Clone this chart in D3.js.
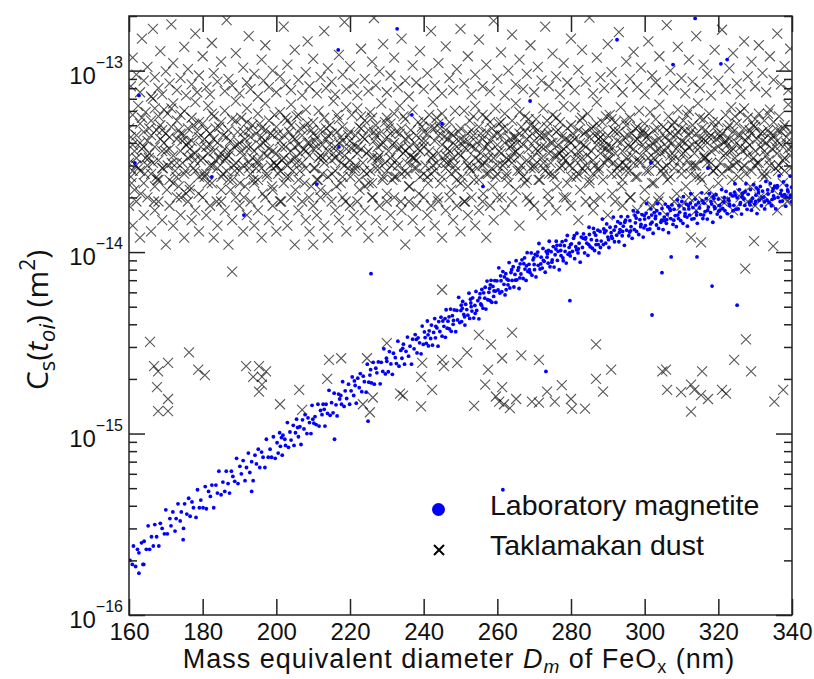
<!DOCTYPE html>
<html lang="en">
	<head>
		<meta charset="utf-8">
		<title>Cs vs mass equivalent diameter</title>
		<script type="text/javascript" src="https://cdn.jsdelivr.net/npm/d3@7"></script>
		<style>
			body { margin: 0; background: #fff; }
			.axis text { font-family: "Liberation Sans", Arial, sans-serif; fill: #111; }
			.axis line { stroke: #222; stroke-width: 1.5; }
			.axis path { display: none; }
		</style>
	</head>
	<body>
		<script type="text/javascript">

			var w = 814;
			var h = 679;
			var plot = { left: 129, right: 792, top: 16, bottom: 615 };

			// axis ticks
			var xTicks = [160, 180, 200, 220, 240, 260, 280, 300, 320, 340];
			var yExponents = [-16, -15, -14, -13];
			var xDomain = [160, 340];
			var yDomain = [1e-16, 2e-13];

			var legendLabels = ["Laboratory magnetite", "Taklamakan dust"];

			// Laboratory magnetite: [D_m (nm), C_s in units of 1e-15 m^2]
			var magnetite = [
				[160.3,0.20],[160.9,0.19],[161.2,0.24],[161.8,0.185],[162.3,0.23],[162.7,0.22],[163.4,0.25],[163.8,0.19],[164.1,0.255],[164.7,0.23],
				[165.2,0.31],[165.6,0.23],[166.1,0.27],[166.6,0.24],[167.0,0.315],[167.5,0.27],[168.1,0.24],[168.5,0.32],[169.0,0.30],[169.6,0.28],
				[170.0,0.38],[170.4,0.28],[171.1,0.34],[171.4,0.31],[171.9,0.37],[172.5,0.29],[172.8,0.34],[173.3,0.41],[173.9,0.33],[174.2,0.37],
				[174.8,0.30],[175.1,0.41],[175.7,0.36],[176.2,0.44],[176.6,0.35],[177.1,0.42],[177.5,0.39],[178.2,0.345],[178.6,0.49],[179.1,0.39],
				[179.5,0.43],[180.1,0.39],[180.7,0.51],[181.0,0.385],[181.6,0.48],[182.1,0.45],[182.5,0.52],[183.0,0.39],[183.6,0.52],[184.0,0.47],
				[184.4,0.62],[185.0,0.46],[185.5,0.54],[186.0,0.48],[186.4,0.62],[186.9,0.53],[187.3,0.47],[187.8,0.62],[188.2,0.58],[188.7,0.545],
				[189.2,0.73],[189.6,0.53],[190.1,0.66],[190.5,0.60],[191.0,0.71],[191.5,0.55],[191.9,0.65],[192.4,0.78],[192.8,0.61],[193.3,0.70],
				[193.7,0.55],[194.2,0.76],[194.6,0.68],[195.1,0.82],[195.5,0.65],[196.0,0.79],[196.4,0.74],[196.9,0.65],[197.3,0.93],[197.8,0.74],
				[198.3,0.82],[198.7,0.74],[199.2,0.96],[199.7,0.73],
				[200.2,0.89],[200.5,0.78],[200.9,1.01],[201.1,0.85],[201.6,0.76],[201.8,0.98],[202.3,0.93],[202.5,0.86],[203.0,1.15],[203.3,0.84],
				[203.7,1.02],[204.0,0.92],[204.6,1.11],[204.8,0.86],[205.2,1.01],[205.5,1.2],[206.0,0.96],[206.4,1.09],[206.7,0.87],[207.1,1.19],
				[207.5,1.06],[207.8,1.27],[208.3,1.0],[208.6,1.22],[209.0,1.15],[209.4,1.0],[209.7,1.43],[210.2,1.14],[210.5,1.24],[210.8,1.12],
				[211.3,1.45],[211.6,1.1],[212.0,1.34],[212.4,1.27],[212.7,1.45],[213.2,1.1],[213.5,1.45],[213.9,1.29],[214.3,1.73],[214.6,1.26],
				[215.0,1.48],[215.4,1.3],[215.7,1.67],[216.2,1.44],[216.5,1.25],[216.9,1.65],[217.2,1.55],[217.7,1.45],[218.0,1.93],[218.4,1.41],
				[218.7,1.72],[219.1,1.56],[219.6,1.87],[219.9,1.45],[220.3,1.72],[220.6,2.05],[221.0,1.62],[221.4,1.84],[221.7,1.47],[222.1,2.02],
				[222.5,1.79],[222.8,2.14],[223.2,1.7],[223.6,2.07],[223.9,1.93],[224.4,1.69],[224.7,2.41],[225.1,1.92],[225.4,2.1],[225.8,1.9],
				[226.3,2.47],[226.6,1.87],[227.0,2.29],[227.3,2.16],[227.7,2.48],[228.2,1.88],[228.5,2.47],[228.9,2.2],[229.2,2.93],[229.6,2.13],
				[230.0,2.5],[230.4,2.19],[230.7,2.83],[231.1,2.42],[231.5,2.12],[231.8,2.77],[232.3,2.62],[232.6,2.43],[233.0,3.23],[233.3,2.35],
				[233.8,2.87],[234.1,2.6],[234.5,3.11],[234.8,2.41],[235.2,2.84],[235.6,3.4],[235.9,2.67],[236.3,3.03],[236.7,2.41],[237.0,3.31],
				[237.4,2.93],[237.7,3.51],[238.2,2.78],[238.5,3.37],[238.9,3.16],[239.3,2.75],[239.6,3.91],[239.9,3.1],
				[201.4,0.95],[205.8,1.08],[209.9,1.2],[213.0,1.36],[217.5,1.62],[221.2,1.95],[225.6,2.25],[229.9,2.6],[234.3,2.95],[238.0,3.3],
				[240.2,3.63],[240.4,3.38],[240.7,3.14],[241.0,4.17],[241.3,3.04],[241.5,3.68],[241.9,3.34],[242.1,3.96],[242.4,3.07],[242.7,3.61],
				[243.0,4.3],[243.2,3.37],[243.6,3.82],[243.9,3.03],[244.1,4.14],[244.4,3.65],[244.7,4.38],[245.0,3.44],[245.2,4.17],[245.5,3.9],
				[245.9,3.39],[246.1,4.81],[246.4,3.81],[246.6,4.16],[247.0,3.77],[247.3,4.85],[247.5,3.66],[247.8,4.46],[248.1,4.2],[248.3,4.8],
				[248.7,3.64],[249.0,4.77],[249.2,4.23],[249.5,5.63],[249.8,4.09],[250.1,4.76],[250.3,4.14],[250.6,5.34],[250.9,4.53],[251.2,3.96],
				[251.4,5.16],[251.7,4.82],[252.0,4.49],[252.3,5.94],[252.5,4.31],[252.8,5.24],[253.1,4.73],[253.3,5.6],[253.6,4.33],[253.9,5.08],
				[254.2,6.07],[254.4,4.77],[254.7,5.4],[255.0,4.29],[255.3,5.9],[255.5,5.18],[255.8,6.22],[256.1,4.91],[256.3,5.96],[256.6,5.57],
				[256.9,4.85],[257.2,6.92],[257.4,5.46],[257.7,6.0],[258.0,5.41],[258.3,6.99],[258.5,5.29],[258.8,6.47],[259.1,6.11],[259.3,6.97],
				[259.6,5.28],[259.9,6.94],[260.2,6.18],[260.4,8.19],[260.7,5.95],[261.0,6.95],[261.2,6.05],[261.5,7.81],[261.8,6.64],[262.1,5.81],
				[262.3,7.6],[262.6,7.1],[262.9,6.6],[263.2,8.75],[263.4,6.34],[263.7,7.72],[264.0,6.98],[264.3,8.31],[264.5,6.42],[264.8,7.53],
				[265.1,8.97],[265.3,7.03],[265.6,7.94],[265.9,6.3],[266.2,8.62],[266.4,7.57],[266.7,9.07],[267.0,7.15],[267.2,8.63],[267.5,8.06],
				[267.8,6.98],[268.1,9.92],[268.3,7.82],[268.6,8.56],[268.9,7.7],[269.2,9.89],[269.4,7.46],[269.7,9.07],[270.0,8.54],[270.3,9.72],
				[270.5,7.3],[270.8,9.55],[271.1,8.45],[271.3,11.15],[271.6,8.07],[271.9,9.38],[272.2,8.16],[272.4,10.48],[272.7,8.89],[273.0,7.74],
				[273.3,10.09],[273.5,9.38],[273.8,8.69],[274.1,11.47],[274.3,8.3],[274.6,10.05],[274.9,9.05],[275.2,10.73],[275.4,8.27],[275.7,9.67],
				[276.0,11.47],[276.3,9.0],[276.5,10.1],[276.8,7.99],[277.1,10.91],[277.3,9.56],[277.6,11.41],[277.9,8.96],[278.2,10.85],[278.4,10.08],
				[278.7,8.7],[279.0,12.36],[279.2,9.72],[279.5,10.61],[279.8,9.52],
				[241.2,3.5],[243.3,3.9],[245.8,4.3],[248.0,4.0],[250.5,4.9],[252.9,5.0],[255.2,5.6],[257.9,6.3],[259.0,5.7],[261.9,7.3],
				[263.0,7.0],[265.8,8.2],[267.9,8.4],[269.9,9.3],[271.8,8.6],[273.9,10.2],[275.9,10.4],[277.8,9.3],[279.9,11.0],[246.9,4.4],
				[280.1,11.1],[280.4,10.1],[280.7,11.9],[281.0,9.2],[281.3,10.7],[281.6,12.7],[281.9,9.9],[282.2,11.2],[282.5,8.8],[282.8,12.1],
				[283.1,10.6],[283.4,12.6],[283.7,9.9],[284.0,12.0],[284.3,11.2],[284.6,9.6],[284.9,13.7],[285.2,10.7],[285.5,11.7],[285.8,10.5],
				[286.1,13.5],[286.4,10.2],[286.7,12.4],[287.0,11.6],[287.3,13.2],[287.6,9.9],[287.9,13.0],[288.2,11.5],[288.5,15.2],[288.8,11.0],
				[289.1,12.8],[289.4,11.2],[289.7,14.3],[290.0,12.1],[290.3,10.6],[290.6,13.7],[290.9,12.8],[291.2,11.9],[291.5,15.6],[291.8,11.4],
				[292.1,13.8],[292.4,12.4],[292.7,14.7],[293.0,11.4],[293.3,13.3],[293.6,15.7],[293.9,12.3],[294.2,13.9],[294.5,10.9],[294.8,15.0],
				[295.1,13.2],[295.4,15.7],[295.7,12.3],[296.0,14.9],[296.3,13.8],[296.6,11.9],[296.9,16.9],[297.2,13.3],[297.5,14.5],[297.8,13.0],
				[298.1,16.6],[298.4,12.5],[298.7,15.1],[299.0,14.2],[299.3,16.1],[299.6,12.1],[299.9,15.9],[300.2,14.0],[300.5,18.5],[300.8,13.3],
				[301.1,15.5],[301.4,13.4],[301.7,17.3],[302.0,14.6],[302.3,12.7],[302.6,16.5],[302.9,15.3],[303.2,14.1],[303.5,18.5],[303.8,13.5],
				[304.1,16.3],[304.4,14.6],[304.7,17.4],[305.0,13.3],[305.3,15.6],[305.6,18.4],[305.9,14.4],[306.2,16.2],[306.5,12.8],[306.8,17.4],
				[307.1,15.3],[307.4,18.2],[307.7,14.2],[308.0,17.2],[308.3,15.9],[308.6,13.8],[308.9,19.4],[309.2,15.3],[309.5,16.6],[309.8,14.9],
				[310.1,19.0],[310.4,14.4],[310.7,17.3],[311.0,16.3],[311.3,18.4],[311.6,13.9],[311.9,18.0],[312.2,16.0],[312.5,21.0],[312.8,15.2],
				[313.1,17.6],[313.4,15.3],[313.7,19.6],[314.0,16.6],[314.3,14.4],[314.6,18.7],[314.9,17.5],[315.2,16.1],[315.5,21.2],[315.8,15.3],
				[316.1,18.6],[316.4,16.7],[316.7,19.7],[317.0,15.2],[317.3,17.7],[317.6,21.0],[317.9,16.5],[318.2,18.4],[318.5,14.6],[318.8,19.8],
				[319.1,17.4],[319.4,20.7],[319.7,16.2],[320.0,19.6],[320.3,18.1],[320.6,15.6],[320.9,22.1],[321.2,17.4],[321.5,18.9],[321.8,16.9],
				[322.1,21.6],[322.4,16.3],[322.7,19.6],[323.0,18.4],[323.3,20.9],[323.6,15.7],[323.9,20.4],[324.2,18.1],[324.5,23.8],[324.8,17.2],
				[325.1,19.9],[325.4,17.3],[325.7,22.1],[326.0,18.7],[326.3,16.2],[326.6,21.1],[326.9,19.6],[327.2,18.1],[327.5,23.8],[327.8,17.2],
				[328.1,20.8],[328.4,18.7],[328.7,22.1],[329.0,17.0],[329.3,19.8],[329.6,23.5],[329.9,18.4],[330.2,20.6],[330.5,16.3],[330.8,22.1],
				[331.1,19.3],[331.4,23.0],[331.7,18.0],[332.0,21.7],[332.3,20.1],[332.6,17.3],[332.9,24.5],[333.2,19.3],[333.5,20.9],[333.8,18.7],
				[334.1,23.9],[334.4,18.0],[334.7,21.7],[335.0,20.4],[335.3,23.1],[335.6,17.3],[335.9,22.6],[336.2,20.0],[336.5,26.3],[336.8,19.0],
				[337.1,21.9],[337.4,19.1],[337.7,24.4],[338.0,20.7],[338.3,17.9],[338.6,23.3],[338.9,21.6],[339.2,19.9],[339.5,26.2],[339.8,18.9],
				[281.5,10.3],[283.9,11.8],[286.8,11.0],[289.5,13.1],[291.0,12.2],[293.4,14.4],[295.9,12.9],[297.7,15.4],[299.8,13.6],[301.9,16.0],
				[303.0,15.8],[305.4,14.9],[307.0,17.0],[309.0,16.0],[311.5,15.6],[313.9,18.2],[316.0,16.0],[318.0,19.0],[320.4,17.0],[322.9,19.2],
				[324.0,16.9],[326.4,20.2],[328.9,19.1],[330.9,21.3],[332.5,18.9],[334.9,22.4],[336.9,21.0],[338.5,20.1],[339.9,22.8],[285.0,12.5],
				[288.0,10.6],[294.0,13.0],[300.0,15.2],[306.0,15.1],[312.0,17.3],[318.9,17.8],[324.6,20.5],[330.1,19.0],[335.2,19.8],[310.5,20.2],
				[250.2,5.1],[251.1,4.4],[252.7,5.5],[254.0,4.6],[255.7,5.1],[256.7,6.4],[258.1,6.6],[259.5,6.1],[260.9,7.4],[262.4,6.2],
				[263.9,8.0],[264.9,7.0],[266.1,7.2],[267.4,9.3],[268.7,8.0],[270.1,8.0],[271.0,10.0],[272.5,9.0],[273.6,9.8],[274.8,8.8],
				[276.2,10.9],[277.2,10.2],[278.6,11.6],[279.6,9.9],[280.9,12.3],[282.0,10.4],[283.3,11.9],[284.8,11.0],[286.3,12.8],[287.4,11.0],
				[288.9,13.4],[290.2,11.7],[291.7,13.2],[293.1,12.8],[294.6,14.6],[296.2,13.1],[297.4,15.9],[298.9,13.8],[300.4,16.4],[301.6,14.3],
				[303.3,16.9],[304.6,15.0],[306.3,17.8],[307.9,15.0],[309.3,18.0],[310.9,15.8],[312.4,18.6],[314.1,16.0],[315.6,19.2],[317.1,17.0],
				[318.6,20.3],[320.1,16.8],[321.6,20.0],[323.1,18.0],[324.4,21.4],[325.9,18.3],[327.3,21.5],[328.6,18.2],[330.3,22.6],[331.9,19.9],
				[333.4,22.0],[334.6,19.5],[336.0,23.2],[337.3,20.4],[338.8,22.0],[339.6,20.6]
			];

			// stray magnetite points away from the main trend
			var magnetiteStray = [
				[164.0,0.19],[162.7,0.17],[174.7,0.26],[193.3,0.48],[215.8,0.93],[224.9,1.17],[261.5,0.49],[225.7,7.6],[273.2,2.2],[279.7,5.4],
				[302.0,4.5],[318.3,6.5],[325.1,5.1],[304.7,7.7],[314.2,9.4],[307.2,9.4],
				[162.7,73],[161.6,31],[182.5,26],[191.2,16],[211.0,23.7],[217.0,38],[216.8,130],[232.8,170],[236.8,57],[245.0,51],
				[292.5,148],[313.7,194],[307.7,108],[320.7,109],[322.4,115],[301.7,31],[317.2,29],[268.9,68],[256.1,23]
			];

			// Taklamakan dust: [D_m (nm), C_s in units of 1e-15 m^2], dense band
			var dustBand = [
				[160,31],[160,48],[160.5,26],[161,39],[161,57],[161.5,22],[162,44],[162,33],[162.5,64],[163,28],[163,51],[163.5,37],[164,24],[164,46],[164.5,59],[165,30],[165,41],[165.5,35],[166,53],[166,27],[166.5,70],[167,38],[167,23],[167.5,47],[168,32],[168,56],[168.5,42],[169,29],[169,36],[169.5,61],[160.5,43],[161.5,36],[162.5,29],[163.5,55],[164.5,33],[165.5,48],[166.5,31],[167.5,26],[168.5,50],[169.5,40],[163,40],[166,44],[168,25],[161,28],[164,38],[167,62],[169,47],
				[170,45],[170.5,30],[170.5,58],[171,25],[171,37],[171.5,49],[172,34],[172,66],[172.5,28],[173,42],[173,53],[173.5,23],[174,36],[174,45],[174.5,31],[175,60],[175,27],[175.5,39],[176,48],[176,33],[176.5,22],[177,55],[177,41],[177.5,29],[178,35],[178,67],[178.5,46],[179,26],[179,52],[179.5,38],[170,36],[171,43],[172,24],[173,31],[174,57],[175,44],[176,40],[177,34],[178,28],[179,43],[171.5,62],[173.5,47],[175.5,21],[177.5,50],[179.5,32],[174.5,41],[176.5,37],
				[180,33],[180,51],[180.5,42],[181,27],[181,38],[181.5,64],[182,45],[182,30],[182.5,24],[183,56],[183,36],[183.5,48],[184,29],[184,40],[184.5,33],[185,52],[185,22],[185.5,44],[186,37],[186,60],[186.5,28],[187,47],[187,34],[187.5,41],[188,25],[188,54],[188.5,38],[189,31],[189,68],[189.5,46],[180.5,26],[181.5,35],[182.5,58],[183.5,32],[184.5,49],[185.5,27],[186.5,43],[187.5,36],[188.5,30],[189.5,39],[181,47],[183,42],[185,35],[187,25],[189,53],[182,39],[186,32],
				[190,40],[190,28],[190.5,55],[191,34],[191,46],[191.5,23],[192,38],[192,62],[192.5,31],[193,43],[193,27],[193.5,50],[194,36],[194,24],[194.5,45],[195,58],[195,32],[195.5,39],[196,29],[196,48],[196.5,35],[197,66],[197,41],[197.5,26],[198,53],[198,37],[198.5,30],[199,44],[199,22],[199.5,57],[190.5,36],[191.5,42],[192.5,47],[193.5,33],[194.5,29],[195.5,51],[196.5,40],[197.5,34],[198.5,45],[199.5,31],[191,30],[193,38],[195,25],[197,47],[199,36],[192,52],[196,43],
				[200,35],[200,49],[200.5,27],[201,41],[201,59],[201.5,32],[202,44],[202,24],[202.5,38],[203,53],[203,30],[203.5,46],[204,36],[204,65],[204.5,28],[205,42],[205,33],[205.5,56],[206,25],[206,39],[206.5,48],[207,31],[207,44],[207.5,37],[208,61],[208,29],[208.5,51],[209,34],[209,40],[209.5,23],[200.5,45],[201.5,38],[202.5,55],[203.5,26],[204.5,43],[205.5,31],[206.5,35],[207.5,49],[208.5,40],[209.5,47],[200,30],[202,33],[204,50],[206,57],[208,36],[201,28],[205,38],
				[210,37],[210,52],[210.5,29],[211,43],[211,25],[211.5,60],[212,34],[212,47],[212.5,39],[213,31],[213,55],[213.5,42],[214,26],[214,36],[214.5,50],[215,45],[215,32],[215.5,68],[216,38],[216,28],[216.5,46],[217,54],[217,35],[217.5,24],[218,41],[218,49],[218.5,30],[219,63],[219,37],[219.5,44],[210.5,41],[211.5,33],[212.5,27],[213.5,48],[214.5,39],[215.5,35],[216.5,57],[217.5,43],[218.5,34],[219.5,29],[210,45],[212,22],[214,44],[216,33],[218,26],[211,38],[217,40],
				[220,32],[220,46],[220.5,57],[221,28],[221,39],[221.5,44],[222,35],[222,62],[222.5,25],[223,48],[223,37],[223.5,31],[224,53],[224,42],[224.5,27],[225,36],[225,47],[225.5,59],[226,33],[226,24],[226.5,41],[227,50],[227,29],[227.5,38],[228,45],[228,34],[228.5,66],[229,26],[229,40],[229.5,52],[220.5,37],[221.5,30],[222.5,49],[223.5,43],[224.5,35],[225.5,28],[226.5,46],[227.5,33],[228.5,39],[229.5,31],[220,41],[222,38],[224,23],[226,55],[228,29],[223,56],[227,44],
				[230,43],[230,28],[230.5,36],[231,51],[231,33],[231.5,25],[232,40],[232,58],[232.5,46],[233,30],[233,37],[233.5,64],[234,27],[234,48],[234.5,35],[235,42],[235,54],[235.5,31],[236,38],[236,23],[236.5,47],[237,33],[237,61],[237.5,40],[238,29],[238,44],[238.5,52],[239,36],[239,26],[239.5,49],[230.5,48],[231.5,39],[232.5,32],[233.5,45],[234.5,56],[235.5,27],[236.5,34],[237.5,29],[238.5,37],[239.5,41],[230,55],[232,26],[234,38],[236,43],[238,32],[231,45],[235,36],
				[240,38],[240,53],[240.5,30],[241,45],[241,26],[241.5,36],[242,49],[242,33],[242.5,67],[243,41],[243,28],[243.5,55],[244,35],[244,44],[244.5,24],[245,39],[245,58],[245.5,32],[246,47],[246,29],[246.5,42],[247,36],[247,52],[247.5,27],[248,44],[248,33],[248.5,60],[249,38],[249,25],[249.5,46],[240.5,41],[241.5,57],[242.5,34],[243.5,31],[244.5,48],[245.5,43],[246.5,37],[247.5,45],[248.5,30],[249.5,35],[240,46],[242,27],[244,51],[246,34],[248,40],[243,48],[247,31],
				[250,34],[250,48],[250.5,26],[251,41],[251,60],[251.5,37],[252,30],[252,45],[252.5,53],[253,28],[253,38],[253.5,44],[254,33],[254,64],[254.5,40],[255,25],[255,49],[255.5,35],[256,42],[256,57],[256.5,31],[257,46],[257,27],[257.5,39],[258,52],[258,36],[258.5,29],[259,44],[259,33],[259.5,62],[250.5,39],[251.5,32],[252.5,40],[253.5,56],[254.5,29],[255.5,45],[256.5,38],[257.5,33],[258.5,48],[259.5,26],[250,42],[252,23],[254,37],[256,30],[258,41],[253,47],[257,55],
				[260,39],[260,27],[260.5,51],[261,35],[261,44],[261.5,30],[262,58],[262,40],[262.5,33],[263,47],[263,24],[263.5,38],[264,53],[264,31],[264.5,43],[265,36],[265,66],[265.5,28],[266,45],[266,34],[266.5,49],[267,39],[267,26],[267.5,56],[268,32],[268,42],[268.5,37],[269,50],[269,29],[269.5,45],[260.5,36],[261.5,48],[262.5,27],[263.5,42],[264.5,35],[265.5,40],[266.5,30],[267.5,46],[268.5,54],[269.5,33],[260,45],[262,31],[264,39],[266,59],[268,25],[261,52],[265,43],
				[270,41],[270,30],[270.5,54],[271,36],[271,47],[271.5,25],[272,43],[272,33],[272.5,62],[273,38],[273,28],[273.5,49],[274,35],[274,45],[274.5,31],[275,57],[275,40],[275.5,26],[276,46],[276,34],[276.5,39],[277,52],[277,29],[277.5,43],[278,37],[278,64],[278.5,32],[279,48],[279,24],[279.5,41],[270.5,37],[271.5,44],[272.5,29],[273.5,53],[274.5,40],[275.5,34],[276.5,47],[277.5,36],[278.5,42],[279.5,30],[270,49],[272,38],[274,27],[276,55],[278,33],[273,44],[277,35],
				[280,36],[280,50],[280.5,29],[281,42],[281,63],[281.5,34],[282,47],[282,27],[282.5,40],[283,55],[283,33],[283.5,45],[284,30],[284,38],[284.5,58],[285,43],[285,25],[285.5,36],[286,49],[286,32],[286.5,44],[287,39],[287,67],[287.5,28],[288,46],[288,35],[288.5,52],[289,31],[289,41],[289.5,37],[280.5,45],[281.5,26],[282.5,53],[283.5,39],[284.5,34],[285.5,48],[286.5,30],[287.5,42],[288.5,38],[289.5,56],[280,40],[282,36],[284,46],[286,27],[288,43],[283,29],[287,51],
				[290,44],[290,32],[290.5,57],[291,38],[291,27],[291.5,47],[292,35],[292,52],[292.5,41],[293,30],[293,46],[293.5,63],[294,36],[294,25],[294.5,43],[295,50],[295,33],[295.5,39],[296,28],[296,55],[296.5,45],[297,37],[297,31],[297.5,48],[298,42],[298,26],[298.5,60],[299,34],[299,45],[299.5,39],[290.5,36],[291.5,31],[292.5,29],[293.5,40],[294.5,53],[295.5,44],[296.5,34],[297.5,41],[298.5,32],[299.5,47],[290,39],[292,46],[294,31],[296,38],[298,49],[291,54],[295,28],
				[300,37],[300,51],[300.5,28],[301,44],[301,33],[301.5,59],[302,40],[302,24],[302.5,47],[303,36],[303,54],[303.5,31],[304,42],[304,65],[304.5,35],[305,49],[305,27],[305.5,43],[306,38],[306,30],[306.5,56],[307,45],[307,34],[307.5,40],[308,29],[308,52],[308.5,37],[309,46],[309,61],[309.5,32],[300.5,43],[301.5,38],[302.5,33],[303.5,48],[304.5,28],[305.5,36],[306.5,41],[307.5,50],[308.5,44],[309.5,39],[300,45],[302,31],[304,37],[306,47],[308,34],[303,41],[307,26],
				[310,41],[310,29],[310.5,53],[311,36],[311,47],[311.5,32],[312,44],[312,60],[312.5,27],[313,39],[313,50],[313.5,35],[314,45],[314,30],[314.5,66],[315,38],[315,42],[315.5,25],[316,54],[316,34],[316.5,47],[317,40],[317,31],[317.5,58],[318,36],[318,44],[318.5,28],[319,49],[319,37],[319.5,42],[310.5,35],[311.5,57],[312.5,46],[313.5,30],[314.5,39],[315.5,48],[316.5,33],[317.5,43],[318.5,52],[319.5,29],[310,48],[312,38],[314,26],[316,42],[318,31],[311,40],[315,55],
				[320,38],[320,52],[320.5,31],[321,45],[321,27],[321.5,40],[322,57],[322,35],[322.5,48],[323,42],[323,29],[323.5,63],[324,37],[324,46],[324.5,33],[325,51],[325,40],[325.5,26],[326,44],[326,59],[326.5,36],[327,30],[327,48],[327.5,41],[328,34],[328,55],[328.5,39],[329,45],[329,28],[329.5,50],[320.5,43],[321.5,34],[322.5,39],[323.5,36],[324.5,56],[325.5,44],[326.5,29],[327.5,37],[328.5,47],[329.5,33],[320,45],[322,41],[324,30],[326,38],[328,43],[323,50],[327,62],
				[330,36],[330,49],[330.5,42],[331,31],[331,58],[331.5,38],[332,46],[332,27],[332.5,53],[333,40],[333,34],[333.5,47],[334,30],[334,61],[334.5,37],[335,44],[335,52],[335.5,29],[336,41],[336,35],[336.5,56],[337,39],[337,46],[337.5,32],[338,50],[338,28],[338.5,43],[339,37],[339,65],[339.5,34],[330.5,31],[331.5,45],[332.5,36],[333.5,58],[334.5,42],[335.5,38],[336.5,30],[337.5,48],[338.5,40],[339.5,46],[340,38],[330,54],[332,41],[334,45],[336,47],[338,33],[333,27]
			];

			// Taklamakan dust, extra points in the lower, darker half of the band
			var dustBandLow = [
				[160.7,24],[161.9,30],[163.2,21],[164.3,27],[165.4,33],[166.8,19],[167.7,25],[169.2,29],[170.3,22],[171.6,31],[172.9,26],[174.1,20],[175.3,28],[176.4,23],[177.8,32],[178.9,21],
				[180.2,27],[181.4,24],[182.7,30],[183.8,19],[185.1,26],[186.3,33],[187.6,22],[188.7,28],[190.1,24],[191.2,20],[192.6,29],[193.8,25],[195.0,31],[196.3,21],[197.4,27],[198.8,23],
				[200.1,30],[201.3,19],[202.7,26],[203.9,32],[205.2,22],[206.4,28],[207.7,24],[208.9,20],[210.2,29],[211.3,25],[212.6,33],[213.9,21],[215.1,27],[216.3,23],[217.6,31],[218.8,19],
				[220.1,26],[221.3,29],[222.6,22],[223.8,28],[225.1,24],[226.2,20],[227.5,32],[228.8,25],[230.0,21],[231.3,30],[232.5,26],[233.8,19],[235.0,28],[236.2,23],[237.5,33],[238.7,21],
				[240.0,27],[241.2,24],[242.5,30],[243.7,20],[245.0,26],[246.2,31],[247.5,22],[248.7,28],[250.0,24],[251.2,19],[252.5,29],[253.7,25],[255.0,32],[256.2,21],[257.5,27],[258.7,23],
				[260.0,30],[261.2,20],[262.5,26],[263.7,33],[265.0,22],[266.2,28],[267.5,24],[268.7,19],[270.0,29],[271.2,25],[272.5,31],[273.7,21],[275.0,27],[276.2,23],[277.5,30],[278.7,20],
				[280.0,26],[281.2,32],[282.5,22],[283.7,28],[285.0,24],[286.2,19],[287.5,29],[288.7,25],[290.0,33],[291.2,21],[292.5,27],[293.7,23],[295.0,30],[296.2,20],[297.5,26],[298.7,31],
				[300.0,22],[301.2,28],[302.5,24],[303.7,19],[305.0,29],[306.2,25],[307.5,32],[308.7,21],[310.0,27],[311.2,23],[312.5,30],[313.7,20],[315.0,26],[316.2,33],[317.5,22],[318.7,28],
				[320.0,24],[321.2,19],[322.5,29],[323.7,25],[325.0,31],[326.2,21],[327.5,27],[328.7,23],[330.0,30],[331.2,20],[332.5,26],[333.7,32],[335.0,22],[336.2,28],[337.5,24],[338.7,19],[339.7,29]
			];

			// Taklamakan dust, sparse points above the band
			var dustUpper = [
				[160.5,82],[161,118],[162,95],[163,76],[163.5,150],[164,88],[165,105],[166,72],[166.5,170],[167,92],[168,80],[168.5,128],[169,74],[170,99],[171,85],[171.5,180],[172,110],[173,78],[174,91],[175,135],
				[175.5,73],[176,102],[177,84],[178,160],[178.5,76],[179,94],[180,120],[181,81],[182,74],[182.5,142],[183,97],[184,87],[185,112],[186,77],[186.5,190],[187,90],[188,83],[189,125],[190,75],[191,104],
				[192,86],[192.5,155],[193,79],[194,96],[195,72],[196,115],[196.5,88],[197,138],[198,81],[199,100],[200,76],[201,93],[202,175],[202.5,84],[203,108],[204,78],[205,130],[206,89],[207,73],[208,98],
				[208.5,145],[209,82],[210,116],[211,75],[212,92],[213,165],[213.5,80],[214,103],[215,87],[216,74],[217,122],[218,95],[218.5,185],[219,79],[220,106],[221,85],[222,73],[223,132],[224,90],[225,77],
				[226,112],[226.5,195],[227,83],[228,99],[229,140],[230,76],[231,94],[232,118],[233,81],[234,150],[235,88],[236,72],[237,107],[238,86],[239,128],[240,79],[241,97],[242,165],[243,83],[244,110],
				[245,75],[246,136],[247,91],[248,78],[249,102],[250,170],[251,85],[252,120],[253,74],[254,95],[255,148],[256,82],[257,108],[258,77],[259,188],[260,90],[261,126],[262,73],[263,100],[264,158],
				[265,84],[266,115],[267,79],[268,96],[269,138],[270,76],[271,105],[272,88],[273,175],[274,82],[275,124],[276,93],[277,74],[278,110],[279,86],[280,150],[281,78],[282,101],[283,130],[284,87],
				[285,196],[286,75],[287,118],[288,92],[289,80],[290,140],[291,98],[292,84],[293,163],[294,76],[295,112],[296,90],[297,127],[298,81],[299,104],[300,74],[301,145],[302,94],[303,86],[304,120],
				[305,78],[306,178],[307,100],[308,83],[309,135],[310,91],[311,75],[312,115],[313,87],[314,155],[315,80],[316,108],[317,96],[318,73],[319,130],[320,88],[321,168],[322,79],[323,103],[324,125],
				[325,85],[326,74],[327,145],[328,93],[329,112],[330,82],[331,138],[332,97],[333,76],[334,120],[335,89],[336,160],[337,84],[338,106],[339,78],[339.5,132]
			];

			// Taklamakan dust, sparse points just below the band
			var dustLower = [
				[160,18],[161,14],[162,19],[163,12],[164,16],[165,20],[166,13],[167,17],[168,19],[169,15],[170,11],[171,18],[172,14],[173,20],[174,16],[175,12],[176,19],[177,15],[178,17],[179,13],
				[180,20],[181,16],[182,18],[183,12],[184,14],[185,19],[186,17],[187,11],[188,15],[189,20],[190,18],[191,13],[192,16],[193,19],[194,14],[195,17],[196,12],[197,20],[198,15],[199,18],
				[200,13],[201,19],[202,16],[203,14],[204,20],[205,11],[206,17],[207,19],[208,15],[209,13],[210,18],[211,16],[212,20],[213,14],[214,12],[215,19],[216,17],[217,15],[218,20],[219,13],
				[220,18],[221,16],[222,19],[223,14],[224,17],[225,12],[226,20],[227,15],[228,18],[229,13],[230,19],[231,16],[232,20],[233,14],[234,17],[235,11],[236,19],[237,15],[238,18],[239,13],
				[240,20],[241,16],[242,18],[243,14],[244,19],[245,12],[246,17],[247,20],[248,15],[249,18],[250,13],[251,19],[252,16],[253,20],[254,14],[255,17],[256,19],[257,12],[258,18],[259,15],
				[260,20],[262,17],[264,19],[266,14],[268,20],[270,18],[272,16],[274,19],[276,17],[278,20],[280,18],[282,15],[284,19],[286,17],[288,20],[290,16],[292,19],[294,18],[296,20],[298,17],
				[300,19],[302,18],[304,20],[306,16],[308,19],[310,18],[312,20],[314,17],[316,19],[318,20],[320,18],[322,19],[324,17],[326,20],[328,19],[330,18],[332,20],[334,19],[336,17],[338,20]
			];

			// Taklamakan dust, isolated low points
			var dustLow = [
				[165.7,3.2],[166.8,2.35],[167.9,2.2],[170.6,2.45],[167.6,1.8],[170.6,1.55],[167.9,1.33],[170.6,1.33],[176.3,2.8],[178.8,2.25],
				[180.6,2.1],[191.8,2.35],[195.3,2.35],[193.7,2.05],[196.1,2.05],[197.2,2.2],[196.1,1.86],[195.3,1.7],[206.2,1.74],[201.0,1.45],
				[207.0,1.35],[214.3,2.55],[217.6,2.6],[213.8,2.0],[224.6,2.6],[223.5,1.45],[226.2,1.58],[225.4,1.31],[230.0,3.15],[233.6,1.66],
				[234.4,1.62],[239.3,2.05],[239.3,1.41],[242.3,1.74],[239.6,2.45],[245.0,2.55],[245.5,2.35],[249.1,2.45],[245.0,6.2],[210.0,11],
				[255.0,3.5],[264.0,3.6],[258.3,3.1],[251.8,2.8],[261.3,2.6],[266.5,2.7],[271.3,2.55],[257.5,2.25],[256.7,1.86],[261.3,1.8],
				[259.6,1.6],[260.5,1.5],[261.8,1.45],[263.4,1.38],[265.1,1.55],[253.7,1.42],[269.4,1.5],[271.3,1.48],[273.5,1.7],[275.6,1.5],
				[277.5,1.85],[280.0,1.55],[280.3,1.37],[283.8,1.37],[286.8,3.1],[286.8,2.0],[288.7,1.7],[290.9,2.25],[304.8,2.2],[305.8,2.25],
				[306.1,1.74],[309.9,1.69],[312.6,1.86],[313.5,1.74],[315.3,1.63],[317.2,1.55],[312.6,1.32],[315.6,2.2],[321.0,1.74],[322.1,1.66],
				[324.3,2.55],[327.5,3.3],[328.9,2.2],[327.3,8.1],[329.7,11.5],[334.9,10.8],[337.6,1.74],[335.2,1.5],[312.6,12],[315.3,11.3],
				[188,7.8]
			];

			var dust = dustBand.concat(dustBandLow, dustUpper, dustLower, dustLow);
			var magnetiteAll = magnetite.concat(magnetiteStray);

			var xScale = d3.scaleLinear()
						   .domain(xDomain)
						   .range([plot.left, plot.right]);

			var yScale = d3.scaleLog()
						   .domain(yDomain)
						   .range([plot.bottom, plot.top]);

			var svg = d3.select("body")
						.append("svg")
						.attr("width", w)
						.attr("height", h);

			svg.append("clipPath")
			   .attr("id", "plotClip")
			   .append("rect")
			   .attr("x", plot.left)
			   .attr("y", plot.top)
			   .attr("width", plot.right - plot.left)
			   .attr("height", plot.bottom - plot.top);

			var marks = svg.append("g")
						   .attr("clip-path", "url(#plotClip)");

			// dust crosses
			var xHalf = 5;
			marks.append("g")
				.selectAll("path")
				.data(dust)
				.enter()
				.append("path")
				.attr("d", "M" + (-xHalf) + "," + (-xHalf) + "L" + xHalf + "," + xHalf +
						   "M" + (-xHalf) + "," + xHalf + "L" + xHalf + "," + (-xHalf))
				.attr("transform", function(d) {
					return "translate(" + xScale(d[0]) + "," + yScale(d[1] * 1e-15) + ")";
				})
				.attr("fill", "none")
				.attr("stroke", "#000")
				.attr("stroke-opacity", 0.66)
				.attr("stroke-width", 1.1);

			// magnetite dots
			marks.append("g")
				.selectAll("circle")
				.data(magnetiteAll)
				.enter()
				.append("circle")
				.attr("cx", function(d) { return xScale(d[0]); })
				.attr("cy", function(d) { return yScale(d[1] * 1e-15); })
				.attr("r", 1.9)
				.attr("fill", "#0000ff");

			// ticks, all pointing inward
			var yAll = yScale.ticks().filter(function(v) {
				return v >= yDomain[0] && v <= yDomain[1];
			});
			var yMajor = yExponents.map(function(e) { return Math.pow(10, e); });
			var yMinor = yAll.filter(function(v) {
				return Math.abs(Math.log10(v) - Math.round(Math.log10(v))) > 1e-6;
			});

			svg.append("g")
			   .attr("class", "axis")
			   .attr("transform", "translate(0," + plot.bottom + ")")
			   .call(d3.axisBottom(xScale).tickValues(xTicks).tickSize(-16).tickSizeOuter(0).tickPadding(8))
			   .selectAll("text")
			   .attr("font-size", "24px");

			svg.append("g")
			   .attr("class", "axis")
			   .attr("transform", "translate(0," + plot.top + ")")
			   .call(d3.axisTop(xScale).tickValues(xTicks).tickSize(-16).tickSizeOuter(0).tickFormat(""));

			svg.append("g")
			   .attr("class", "axis")
			   .attr("transform", "translate(" + plot.left + ",0)")
			   .call(d3.axisLeft(yScale).tickValues(yMinor).tickSize(-8).tickSizeOuter(0).tickFormat(""));

			svg.append("g")
			   .attr("class", "axis")
			   .attr("transform", "translate(" + plot.left + ",0)")
			   .call(d3.axisLeft(yScale).tickValues(yMajor).tickSize(-16).tickSizeOuter(0).tickFormat(""));

			svg.append("g")
			   .attr("class", "axis")
			   .attr("transform", "translate(" + plot.right + ",0)")
			   .call(d3.axisRight(yScale).tickValues(yMinor).tickSize(-8).tickSizeOuter(0).tickFormat(""));

			svg.append("g")
			   .attr("class", "axis")
			   .attr("transform", "translate(" + plot.right + ",0)")
			   .call(d3.axisRight(yScale).tickValues(yMajor).tickSize(-16).tickSizeOuter(0).tickFormat(""));

			// y tick labels as 10 with superscript exponent
			var yLabels = svg.append("g")
							 .selectAll("text")
							 .data(yExponents)
							 .enter()
							 .append("text")
							 .attr("x", plot.left - 6)
							 .attr("y", function(e) { return yScale(Math.pow(10, e)) + 13; })
							 .attr("text-anchor", "end")
							 .attr("font-family", "'Liberation Sans', Arial, sans-serif")
							 .attr("fill", "#111");

			yLabels.append("tspan")
				   .attr("font-size", "24px")
				   .text("10");

			yLabels.append("tspan")
				   .attr("font-size", "16px")
				   .attr("dy", -16)
				   .text(function(e) { return "\u2212" + Math.abs(e); });

			// frame
			svg.append("rect")
			   .attr("x", plot.left)
			   .attr("y", plot.top)
			   .attr("width", plot.right - plot.left)
			   .attr("height", plot.bottom - plot.top)
			   .attr("fill", "none")
			   .attr("stroke", "#222")
			   .attr("stroke-width", 1.5);

			// x title
			var xTitle = svg.append("text")
							.attr("x", 459)
							.attr("y", 668)
							.attr("text-anchor", "middle")
							.attr("font-family", "'Liberation Sans', Arial, sans-serif")
							.attr("font-size", "27px")
							.attr("letter-spacing", "1px")
							.attr("fill", "#111");
			xTitle.append("tspan").text("Mass equivalent diameter ");
			xTitle.append("tspan").attr("font-style", "italic").text("D");
			xTitle.append("tspan").attr("font-style", "italic").attr("font-size", "19px").attr("dy", 5).text("m");
			xTitle.append("tspan").attr("dy", -5).text(" of FeO");
			xTitle.append("tspan").attr("font-size", "18px").attr("dy", 5).text("x");
			xTitle.append("tspan").attr("dy", -5).text(" (nm)");

			// y title
			var yTitle = svg.append("text")
							.attr("transform", "translate(48,320) rotate(-90)")
							.attr("text-anchor", "middle")
							.attr("font-family", "'Open Sans', 'Noto Sans', sans-serif")
							.attr("font-size", "30px")
							.attr("fill", "#111");
			yTitle.append("tspan").text("C");
			yTitle.append("tspan").attr("font-size", "22px").attr("dy", 7).text("s");
			yTitle.append("tspan").attr("dy", -7).text("(");
			yTitle.append("tspan").attr("font-style", "italic").text("t");
			yTitle.append("tspan").attr("font-style", "italic").attr("font-size", "22px").attr("dy", 7).text("oi");
			yTitle.append("tspan").attr("dy", -7).text(") (m");
			yTitle.append("tspan").attr("font-size", "21px").attr("dy", -13).text("2");
			yTitle.append("tspan").attr("dy", 13).text(")");

			// legend
			var legend = svg.append("g");

			legend.append("circle")
				  .attr("cx", 438.5)
				  .attr("cy", 509.5)
				  .attr("r", 6.5)
				  .attr("fill", "#0000ff");

			legend.append("path")
				  .attr("d", "M434,545L444,555M434,555L444,545")
				  .attr("stroke", "#000")
				  .attr("stroke-width", 2);

			legend.selectAll("text")
				  .data(legendLabels)
				  .enter()
				  .append("text")
				  .attr("x", 490)
				  .attr("y", function(d, i) { return 515 + i * 40; })
				  .attr("font-family", "'Liberation Sans', Arial, sans-serif")
				  .attr("font-size", "28.5px")
				  .attr("fill", "#111")
				  .text(function(d) { return d; });

		</script>
	</body>
</html>
